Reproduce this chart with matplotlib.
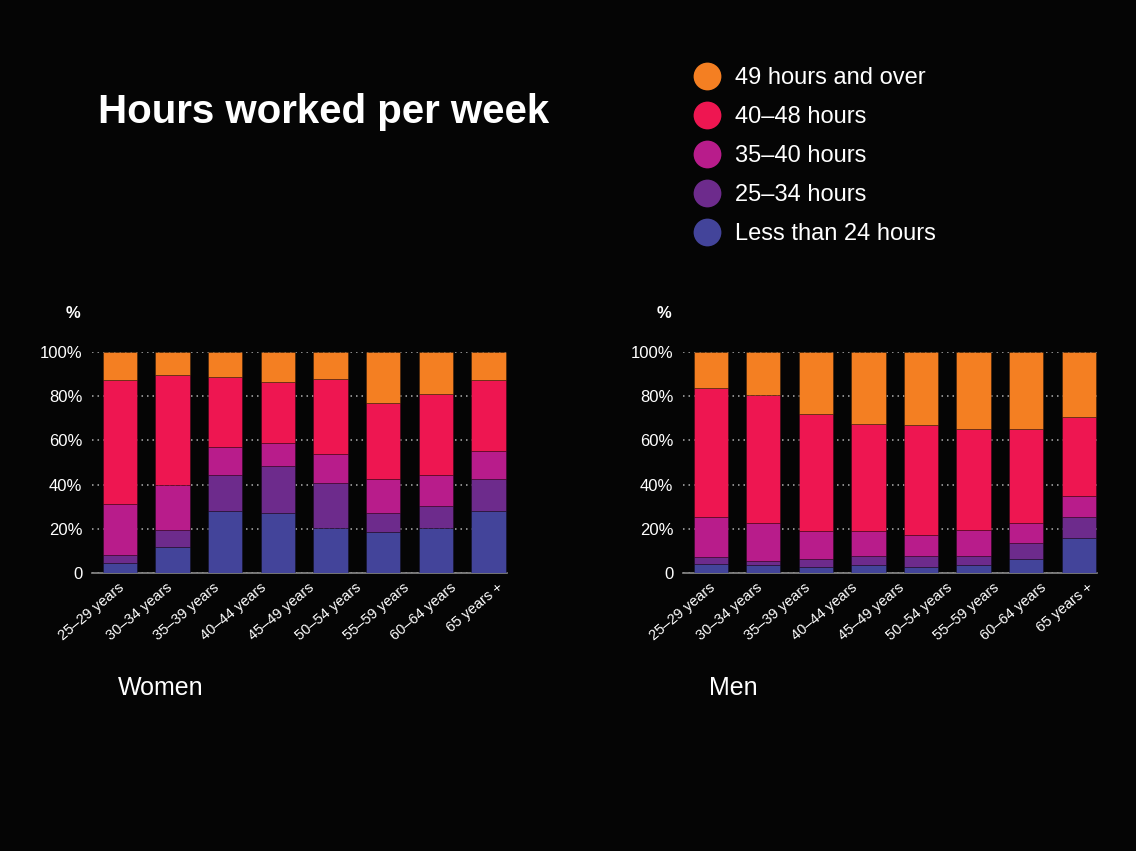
import numpy as np
import matplotlib
matplotlib.use("Agg")
import matplotlib.pyplot as plt
from matplotlib.lines import Line2D

plt.rcParams['font.family'] = ['Liberation Sans', 'DejaVu Sans']

# age groups shown as tick labels (9 labels, 8 bars in the original)
age_labels = ['25–29 years', '30–34 years', '35–39 years', '40–44 years', '45–49 years',
              '50–54 years', '55–59 years', '60–64 years', '65 years +']

series_names = ['Less than 24 hours', '25–34 hours', '35–40 hours', '40–48 hours', '49 hours and over']
colors = ['#43449a', '#6d2b8c', '#b81c8b', '#ee1651', '#f47f22']

# segment shares (%)
women_less24 = [4.5, 11.8, 28.1, 27.1, 20.2, 18.4, 20.2, 28.1]
women_25_34 = [3.6, 7.7, 16.4, 21.5, 20.7, 8.9, 10.1, 14.4]
women_35_40 = [23.3, 20.3, 12.5, 10.2, 12.8, 15.2, 14.0, 12.7]
women_40_48 = [55.8, 49.9, 31.8, 27.6, 34.2, 34.4, 36.8, 32.0]
women_49plus = [12.8, 10.3, 11.2, 13.6, 12.1, 23.1, 18.9, 12.8]

men_less24 = [4.1, 3.6, 2.7, 3.6, 2.7, 3.6, 6.3, 15.8]
men_25_34 = [3.1, 2.0, 3.8, 4.2, 5.1, 4.2, 7.2, 9.5]
men_35_40 = [18.1, 17.0, 12.3, 11.0, 9.3, 11.7, 9.1, 9.4]
men_40_48 = [58.2, 57.9, 53.1, 48.6, 49.7, 45.8, 42.7, 35.7]
men_49plus = [16.5, 19.5, 28.1, 32.6, 33.2, 34.7, 34.7, 29.6]

women = [women_less24, women_25_34, women_35_40, women_40_48, women_49plus]
men = [men_less24, men_25_34, men_35_40, men_40_48, men_49plus]

bg = '#050505'
fig = plt.figure(figsize=(11.36, 8.51), dpi=100, facecolor=bg)


def draw_panel(ax, data, title):
    ax.set_facecolor(bg)
    x = np.arange(len(data[0]))
    bottom = np.zeros(len(x))
    for vals, col in zip(data, colors):
        ax.bar(x, vals, width=0.65, bottom=bottom, color=col,
               edgecolor=(0, 0, 0, 0.35), linewidth=0.6, zorder=3)
        bottom += np.array(vals)
    ax.set_ylim(0, 100)
    ax.set_xlim(-0.53, len(x) - 0.65)
    ax.set_yticks([0, 20, 40, 60, 80, 100])
    ax.set_yticklabels(['0', '20%', '40%', '60%', '80%', '100%'])
    ax.yaxis.grid(True, linestyle=(0, (1, 2.6)), color='#b0b0b0', linewidth=1.1, zorder=0)
    ax.set_axisbelow(True)
    ax.set_xticks(np.linspace(0.05, len(x) - 0.75, len(age_labels)))
    ax.set_xticklabels(age_labels, rotation=40, ha='right', va='center',
                       rotation_mode='anchor', fontsize=10.5, color='white')
    ax.tick_params(axis='x', length=0, pad=9)
    ax.tick_params(axis='y', length=0, pad=7, labelsize=12, labelcolor='white')
    for s in ['top', 'right', 'left']:
        ax.spines[s].set_visible(False)
    ax.spines['bottom'].set_color('#8a8a8a')
    ax.spines['bottom'].set_linewidth(1.2)
    ax.text(-0.045, 1.176, '%', transform=ax.transAxes, color='white',
            fontsize=12, fontweight='bold', ha='center', va='center')
    ax.text(0.063, -0.52, title, transform=ax.transAxes, color='white',
            fontsize=18, ha='left', va='center')


ax1 = fig.add_axes([92 / 1136, 1 - 573 / 851, 415 / 1136, 221 / 851])
draw_panel(ax1, women, 'Women')
ax2 = fig.add_axes([683 / 1136, 1 - 573 / 851, 414 / 1136, 221 / 851])
draw_panel(ax2, men, 'Men')

fig.text(98 / 1136, 1 - 112 / 851, 'Hours worked per week', color='white',
         fontsize=29, fontweight='bold', ha='left', va='center')

handles = [Line2D([], [], marker='o', linestyle='none', markersize=20,
                  markerfacecolor=c, markeredgecolor='none') for c in colors[::-1]]
fig.legend(handles, series_names[::-1], loc='upper left',
           bbox_to_anchor=(696 / 1136, 1 - 67 / 851), frameon=False,
           fontsize=17, labelcolor='white', handlelength=0.95, handletextpad=0.72,
           labelspacing=0.72, borderpad=0, borderaxespad=0)

fig.savefig('out.png', dpi=100, facecolor=bg)
